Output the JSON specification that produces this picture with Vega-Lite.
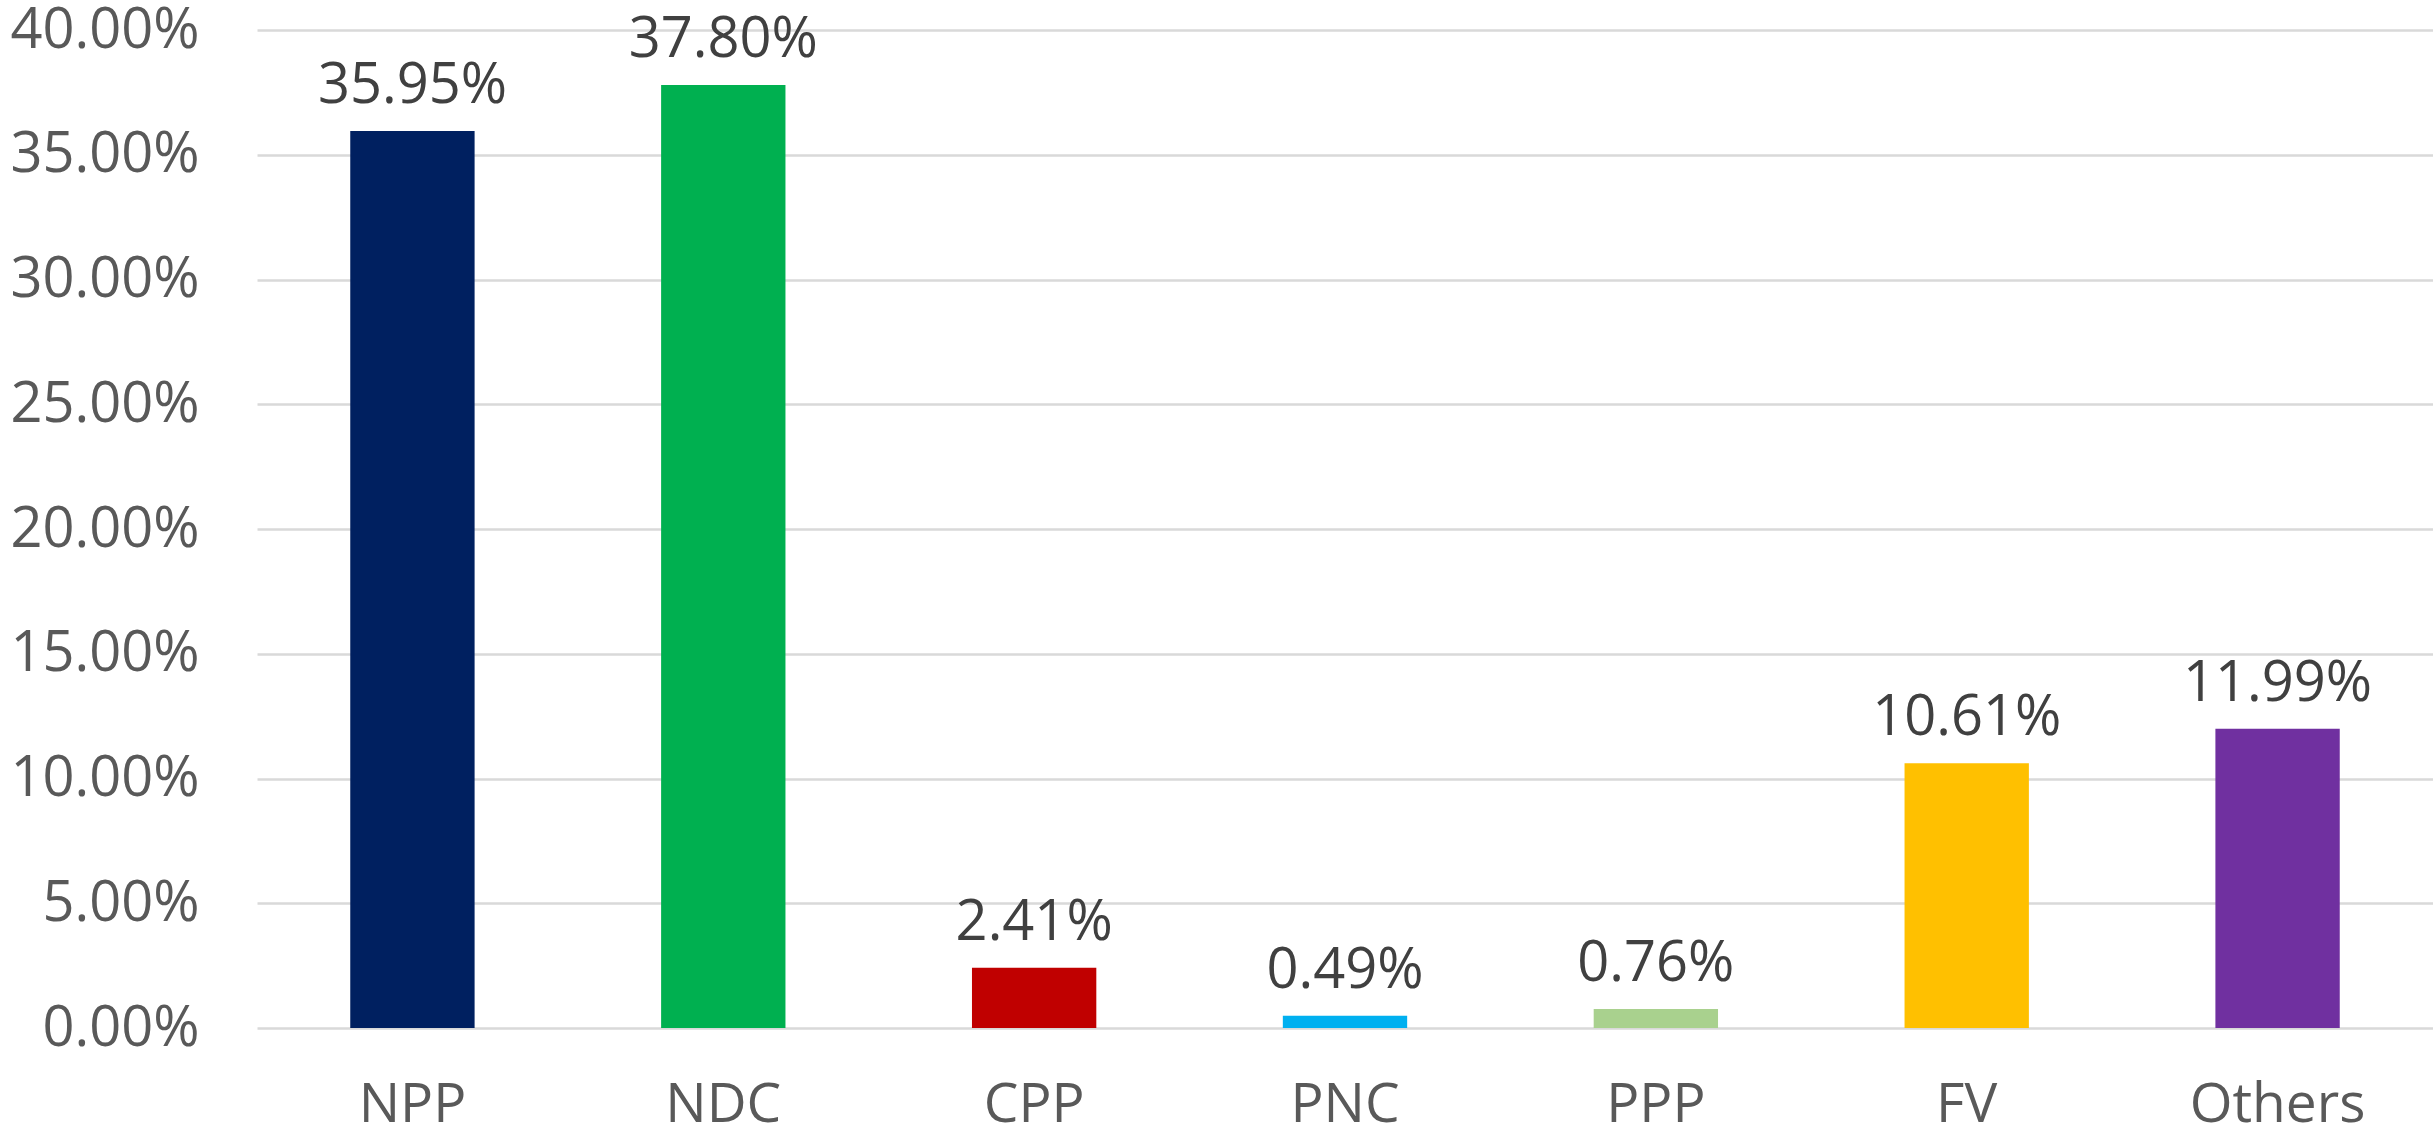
{
  "$schema": "https://vega.github.io/schema/vega-lite/v6.json",
  "autosize": "none",
  "width": 2176,
  "height": 998,
  "padding": {"left": 257, "top": 30, "right": 0, "bottom": 111},
  "background": "white",
  "config": {"view": {"stroke": null}, "font": "Open Sans"},
  "data": {
    "values": [
      {"party": "NPP", "share": 0.3595},
      {"party": "NDC", "share": 0.378},
      {"party": "CPP", "share": 0.0241},
      {"party": "PNC", "share": 0.0049},
      {"party": "PPP", "share": 0.0076},
      {"party": "FV", "share": 0.1061},
      {"party": "Others", "share": 0.1199}
    ]
  },
  "encoding": {
    "x": {
      "field": "party", "type": "nominal", "sort": null,
      "scale": {"paddingInner": 0.6, "paddingOuter": 0.3},
      "axis": {"title": null, "labelAngle": 0, "domain": false, "ticks": false, "labelLimit": 0,
        "labelFont": "Open Sans", "labelFontSize": 55, "labelColor": "#595959", "labelPadding": 50}
    },
    "y": {
      "field": "share", "type": "quantitative",
      "scale": {"domain": [0, 0.4], "nice": false},
      "axis": {"title": null, "format": ".2%", "values": [0, 0.05, 0.1, 0.15, 0.2, 0.25, 0.3, 0.35, 0.4],
        "domain": false, "ticks": false, "labelLimit": 0, "labelFont": "Open Sans", "labelFontSize": 56,
        "labelColor": "#595959", "labelPadding": 58, "gridColor": "#d9d9d9", "gridWidth": 2.5}
    }
  },
  "layer": [
    {
      "mark": {"type": "bar"},
      "encoding": {
        "color": {
          "field": "party", "type": "nominal", "legend": null,
          "scale": {
            "domain": ["NPP", "NDC", "CPP", "PNC", "PPP", "FV", "Others"],
            "range": ["#002060", "#00B050", "#C00000", "#00B0F0", "#A9D18E", "#FFC000", "#7030A0"]
          }
        }
      }
    },
    {
      "mark": {"type": "text", "baseline": "alphabetic", "dy": -28, "fontSize": 56, "font": "Open Sans", "color": "#404040"},
      "encoding": {
        "text": {"field": "share", "type": "quantitative", "format": ".2%"}
      }
    }
  ]
}
